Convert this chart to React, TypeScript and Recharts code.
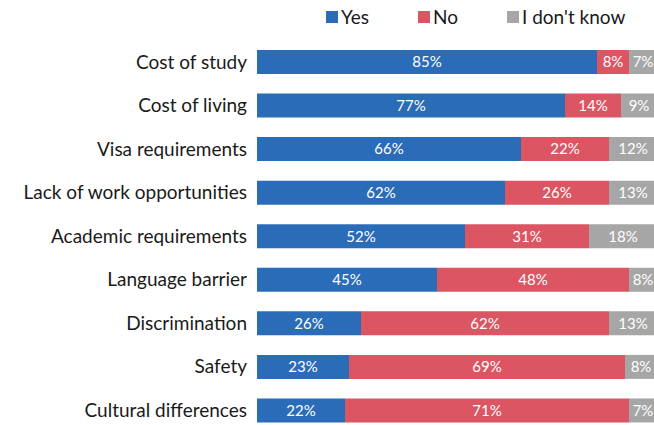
import React from "react";
import { BarChart, Bar, XAxis, YAxis, LabelList } from "recharts";

const categories = [
  "Cost of study",
  "Cost of living",
  "Visa requirements",
  "Lack of work opportunities",
  "Academic requirements",
  "Language barrier",
  "Discrimination",
  "Safety",
  "Cultural differences",
];
const yesValues = [85, 77, 66, 62, 52, 45, 26, 23, 22];
const noValues = [8, 14, 22, 26, 31, 48, 62, 69, 71];
const dontKnowValues = [7, 9, 12, 13, 18, 8, 13, 8, 7];

const seriesNames = ["Yes", "No", "I don't know"];
const colors = ["#2B6CB8", "#DC5563", "#A6A6A6"];

const data = categories.map((c, i) => ({
  name: c,
  yes: yesValues[i],
  no: noValues[i],
  dk: dontKnowValues[i],
}));

const FONT = "Lato, 'Open Sans', sans-serif";

const legendOffsets = [326, 418, 507];

const labelFmt = (v: any) => `${v}%`;

export default function App() {
  return (
    <div
      style={{
        position: "relative",
        width: 654,
        height: 425,
        overflow: "hidden",
        background: "#fff",
      }}
    >
      <style>{`html,body{margin:0;padding:0;}`}</style>
      <svg
        width={654}
        height={36}
        style={{ position: "absolute", left: 0, top: 0, zIndex: 2 }}
      >
        {seriesNames.map((n, i) => (
          <g key={n}>
            <rect x={legendOffsets[i]} y={11} width={12} height={12} fill={colors[i]} />
            <text
              x={legendOffsets[i] + 15}
              y={24}
              fontSize={19}
              fontFamily={FONT}
              fill="#1a1a1a"
            >
              {n}
            </text>
          </g>
        ))}
      </svg>
      <BarChart
        width={660}
        height={432}
        data={data}
        layout="vertical"
        margin={{ top: 40, right: 3, bottom: 0, left: 0 }}
        barSize={24}
      >
        <XAxis type="number" domain={[0, 100]} hide allowDataOverflow />
        <YAxis
          type="category"
          dataKey="name"
          width={257}
          axisLine={false}
          tickLine={false}
          tickMargin={4}
          interval={0}
          tick={{ fontSize: 19, fontFamily: FONT, fill: "#1a1a1a" }}
        />
        <Bar dataKey="yes" stackId="a" fill={colors[0]} isAnimationActive={false}>
          <LabelList
            dataKey="yes"
            position="center"
            formatter={labelFmt}
            fill="#fff"
            fontSize={15}
            fontFamily={FONT}
          />
        </Bar>
        <Bar dataKey="no" stackId="a" fill={colors[1]} isAnimationActive={false}>
          <LabelList
            dataKey="no"
            position="center"
            formatter={labelFmt}
            fill="#fff"
            fontSize={15}
            fontFamily={FONT}
          />
        </Bar>
        <Bar dataKey="dk" stackId="a" fill={colors[2]} isAnimationActive={false}>
          <LabelList
            dataKey="dk"
            position="center"
            formatter={labelFmt}
            fill="#fff"
            fontSize={15}
            fontFamily={FONT}
          />
        </Bar>
      </BarChart>
    </div>
  );
}
